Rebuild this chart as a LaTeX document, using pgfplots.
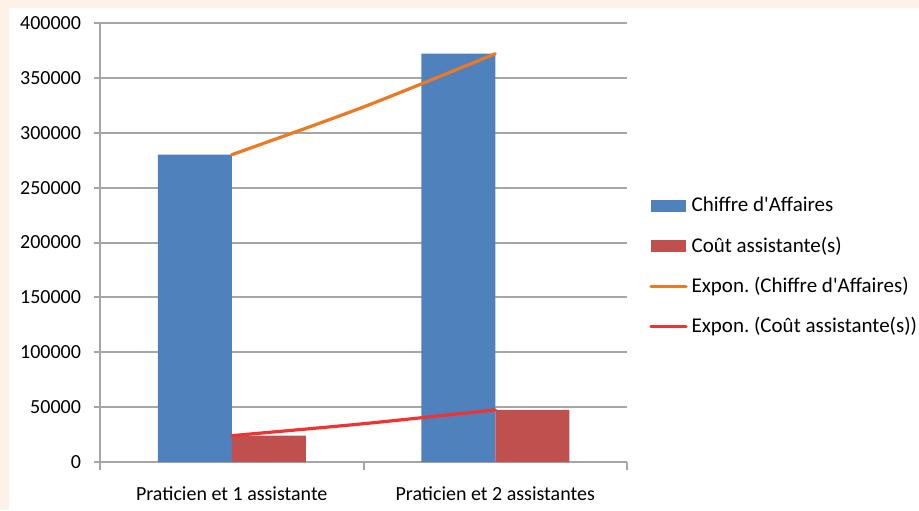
\documentclass[border=0pt]{standalone}
\usepackage{pgfplots}
\pgfplotsset{compat=1.18}
\usepackage{fontspec}
\setmainfont{Carlito}
\definecolor{peach}{HTML}{FEF1E7}
\definecolor{cablue}{HTML}{4F81BD}
\definecolor{cared}{HTML}{C0504D}
\definecolor{trendorange}{HTML}{EC7A24}
\definecolor{trendred}{HTML}{EE3333}
\definecolor{axgray}{HTML}{A6A6A6}
\begin{document}
\frenchspacing
\begin{tikzpicture}[x=0.5pt,y=0.5pt]
  \useasboundingbox (0,0) rectangle (919,510);
  % page and the light frame
  \fill[peach] (0,0) rectangle (919,510);
  \fill[white] (9,0) rectangle (919,502);
  \begin{axis}[
    at={(50pt,24pt)}, anchor=south west,
    scale only axis,
    width=263.5pt, height=219.5pt,
    xmin=-0.5, xmax=1.5,
    ymin=0, ymax=400000,
    axis x line*=bottom, axis y line*=left,
    axis line style={axgray, line width=1.2pt, -},
    ytick={0,50000,...,400000},
    scaled y ticks=false,
    yticklabel style={/pgf/number format/fixed, /pgf/number format/1000 sep={}, xshift=-3pt},
    /pgf/number format/assume math mode=true,
    ymajorgrids,
    grid style={axgray, line width=1pt},
    y tick style={axgray, line width=1pt},
    tick align=outside, major tick length=3pt,
    xtick={0,1},
    xticklabels={Praticien et 1 assistante, Praticien et 2 assistantes},
    x tick style={draw=none},
    xticklabel style={yshift=-6pt},
    extra x ticks={-0.5,0.5,1.5},
    extra x tick labels={},
    extra x tick style={grid=none, x tick style={draw=axgray, line width=1pt}, major tick length=4pt},
    tick label style={font=\fontsize{10}{12}\selectfont},
    legend style={at={(1,0.5)}, anchor=west, xshift=8pt, yshift=-12pt, draw=none,
      font=\fontsize{10.5}{12}\selectfont, row sep=7pt,
      legend cell align=left},
  ]
    \addplot[ybar, bar width=37pt, bar shift=-18.5pt, fill=cablue, draw=none,
      legend image code/.code={\fill[cablue] (0pt,-3pt) rectangle (17.5pt,3pt);}]
      coordinates {(0,280000) (1,372000)};
    \addlegendentry{Chiffre d\textquotesingle Affaires}
    \addplot[ybar, bar width=37pt, bar shift=18.5pt, fill=cared, draw=none,
      legend image code/.code={\fill[cared] (0pt,-3pt) rectangle (17.5pt,3pt);}]
      coordinates {(0,24000) (1,47500)};
    \addlegendentry{Coût assistante(s)}
    \addplot[trendorange, line width=1.6pt, line cap=round, smooth,
      legend image code/.code={\draw[trendorange, line width=1.6pt, line cap=round] (0pt,0pt) -- (17.5pt,0pt);}]
      coordinates {(0,280000) (0.5,323500) (1,372000)};
    \addlegendentry{Expon. (Chiffre d\textquotesingle Affaires)}
    \addplot[trendred, line width=1.6pt, line cap=round, smooth,
      legend image code/.code={\draw[trendred, line width=1.6pt, line cap=round] (0pt,0pt) -- (17.5pt,0pt);}]
      coordinates {(0,24000) (0.5,34900) (1,47500)};
    \addlegendentry{Expon. (Coût assistante(s))}
  \end{axis}
\end{tikzpicture}
\end{document}
